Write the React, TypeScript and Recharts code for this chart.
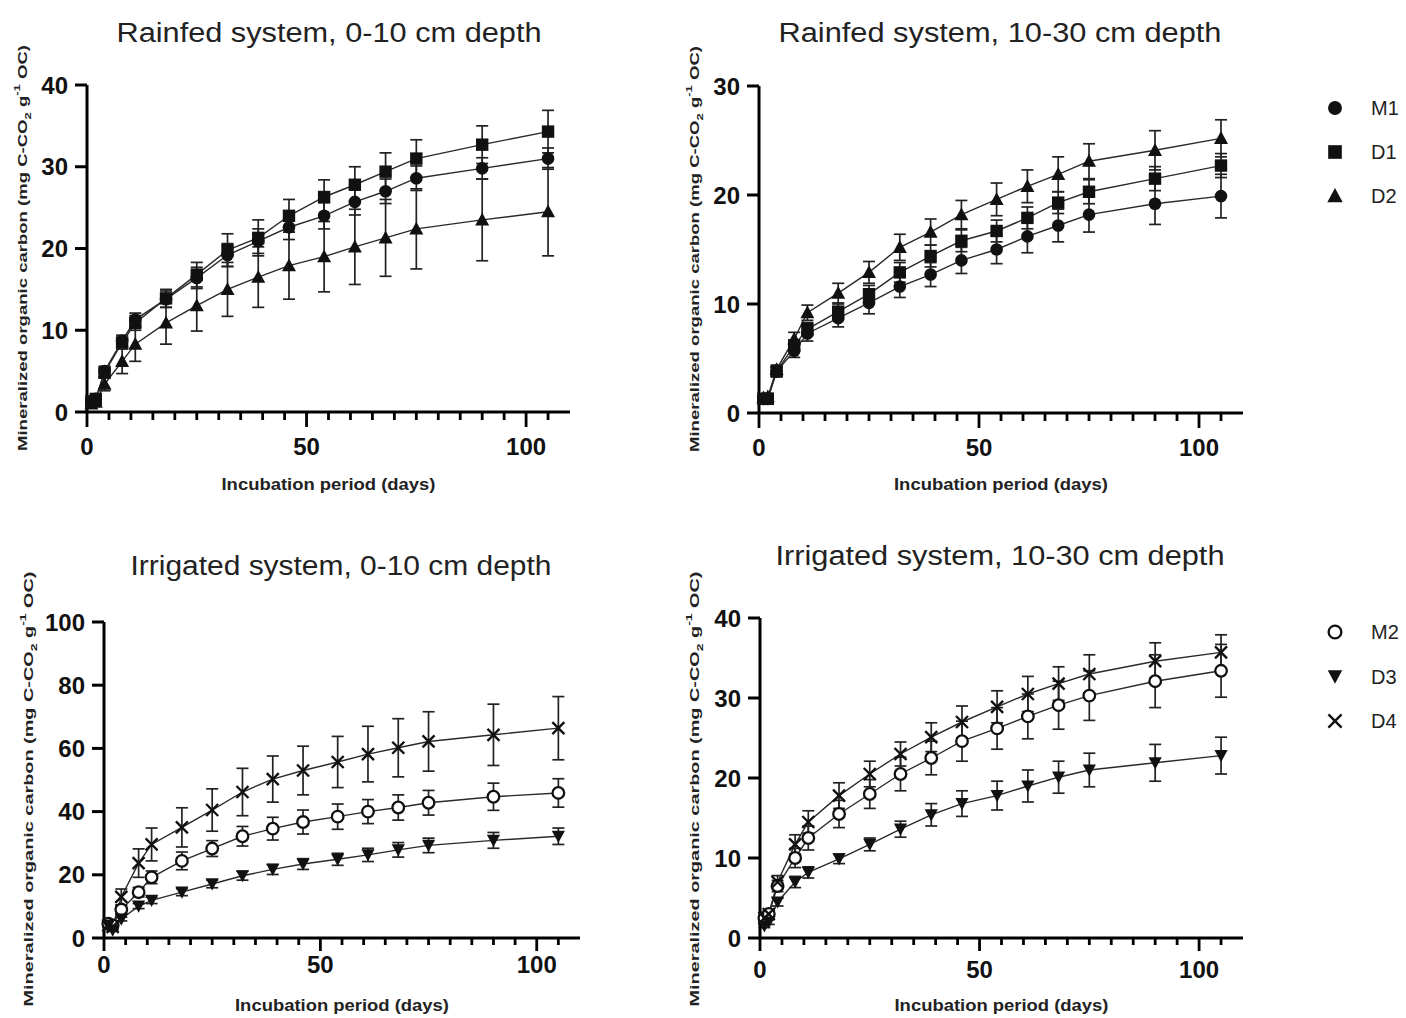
import React from 'react';
import { LineChart, Line, XAxis, YAxis, ErrorBar, Legend } from 'recharts';

// ---------- data ----------
const DAYS = [1, 2, 4, 8, 11, 18, 25, 32, 39, 46, 54, 61, 68, 75, 90, 105];
const X_TICKS = [0, 5, 10, 15, 20, 25, 30, 35, 40, 45, 50, 55, 60, 65, 70, 75, 80, 85, 90, 95, 100, 105];
const X_MAJOR = [0, 50, 100];

// Rainfed system, 0-10 cm
const RF0_M1 = [1.3, 1.6, 5.0, 8.7, 11.3, 13.8, 16.4, 19.2, 20.9, 22.6, 24.0, 25.7, 27.0, 28.6, 29.8, 31.0];
const RF0_M1_ERR = [0.3, 0.4, 0.6, 0.7, 0.8, 1.0, 1.3, 1.4, 1.5, 1.5, 1.6, 1.6, 1.5, 1.5, 1.3, 1.3];
const RF0_D1 = [1.3, 1.6, 4.8, 8.5, 10.9, 13.9, 16.8, 19.8, 21.3, 24.0, 26.3, 27.8, 29.4, 31.0, 32.7, 34.3];
const RF0_D1_ERR = [0.3, 0.4, 0.5, 0.6, 0.9, 1.1, 1.5, 2.0, 2.2, 2.0, 2.1, 2.2, 2.3, 2.3, 2.3, 2.6];
const RF0_D2 = [1.0, 1.2, 3.4, 6.2, 8.3, 10.9, 13.0, 15.0, 16.5, 17.9, 19.0, 20.2, 21.3, 22.4, 23.5, 24.5];
const RF0_D2_ERR = [0.3, 0.4, 0.8, 1.5, 2.1, 2.6, 3.1, 3.3, 3.7, 4.1, 4.3, 4.6, 4.7, 4.9, 5.0, 5.4];

// Rainfed system, 10-30 cm
const RF1_M1 = [1.3, 1.3, 3.8, 5.7, 7.3, 8.7, 10.1, 11.6, 12.7, 14.0, 15.0, 16.2, 17.2, 18.2, 19.2, 19.9];
const RF1_M1_ERR = [0.2, 0.3, 0.4, 0.6, 0.7, 0.8, 1.0, 1.0, 1.1, 1.2, 1.3, 1.5, 1.5, 1.6, 1.9, 2.0];
const RF1_D1 = [1.3, 1.3, 3.8, 6.2, 7.7, 9.3, 10.9, 12.9, 14.4, 15.8, 16.7, 17.9, 19.3, 20.3, 21.5, 22.7];
const RF1_D1_ERR = [0.2, 0.3, 0.4, 0.5, 0.6, 0.7, 0.8, 0.9, 1.0, 1.0, 1.0, 1.0, 1.0, 1.1, 1.1, 1.1];
const RF1_D2 = [1.4, 1.5, 4.0, 6.8, 9.2, 11.0, 12.9, 15.2, 16.6, 18.2, 19.6, 20.8, 21.9, 23.1, 24.1, 25.2];
const RF1_D2_ERR = [0.2, 0.3, 0.4, 0.6, 0.7, 0.9, 1.0, 1.2, 1.2, 1.3, 1.5, 1.5, 1.6, 1.6, 1.8, 1.7];

// Irrigated system, 0-10 cm
const IR0_M2 = [4.5, 4.0, 9.0, 14.5, 19.2, 24.4, 28.3, 32.2, 34.6, 36.7, 38.4, 40.0, 41.3, 42.8, 44.7, 45.9];
const IR0_M2_ERR = [0.5, 0.6, 1.2, 1.5, 2.0, 2.8, 2.5, 3.1, 3.6, 3.8, 4.0, 3.8, 4.0, 3.9, 4.3, 4.5];
const IR0_D3 = [4.0, 2.5, 6.0, 10.1, 11.9, 14.5, 17.1, 19.7, 21.7, 23.4, 24.9, 26.3, 27.9, 29.3, 30.9, 32.2];
const IR0_D3_ERR = [0.3, 0.4, 0.6, 0.8, 1.0, 1.1, 1.2, 1.4, 1.6, 1.7, 1.9, 2.1, 2.3, 2.3, 2.5, 2.6];
const IR0_D4 = [4.0, 3.5, 13.0, 23.7, 29.6, 35.0, 40.5, 46.2, 50.3, 53.0, 55.7, 58.2, 60.2, 62.2, 64.3, 66.4];
const IR0_D4_ERR = [0.5, 0.8, 2.5, 4.5, 5.2, 6.2, 6.7, 7.5, 7.3, 7.7, 8.1, 8.8, 9.2, 9.4, 9.7, 10.0];

// Irrigated system, 10-30 cm
const IR1_M2 = [2.5, 3.0, 6.5, 10.0, 12.5, 15.5, 18.0, 20.5, 22.5, 24.6, 26.2, 27.7, 29.1, 30.3, 32.1, 33.4];
const IR1_M2_ERR = [0.3, 0.4, 0.7, 1.2, 1.5, 1.7, 1.8, 2.1, 2.1, 2.5, 2.6, 2.8, 3.0, 3.1, 3.3, 3.3];
const IR1_D3 = [1.5, 2.0, 4.5, 7.0, 8.2, 9.9, 11.7, 13.6, 15.4, 16.8, 17.8, 19.0, 20.1, 21.0, 21.9, 22.8];
const IR1_D3_ERR = [0.2, 0.3, 0.5, 0.7, 0.7, 0.6, 0.8, 1.0, 1.4, 1.6, 1.8, 2.0, 2.0, 2.1, 2.3, 2.3];
const IR1_D4 = [2.5, 3.0, 7.0, 11.7, 14.5, 17.8, 20.5, 23.0, 25.1, 27.0, 28.9, 30.5, 31.8, 33.0, 34.6, 35.7];
const IR1_D4_ERR = [0.3, 0.4, 0.8, 1.2, 1.4, 1.6, 1.6, 1.5, 1.8, 2.0, 2.0, 2.2, 2.1, 2.4, 2.3, 2.2];

const Y_TICKS_40 = [0, 10, 20, 30, 40];
const Y_TICKS_30 = [0, 10, 20, 30];
const Y_TICKS_100 = [0, 20, 40, 60, 80, 100];

const TITLES = [
  'Rainfed system, 0-10 cm depth',
  'Rainfed system, 10-30 cm depth',
  'Irrigated system, 0-10 cm depth',
  'Irrigated system, 10-30 cm depth',
];
const X_LABEL = 'Incubation period (days)';
const LEGEND_TOP = ['M1', 'D1', 'D2'];
const LEGEND_BOTTOM = ['M2', 'D3', 'D4'];

const FONT = '"Liberation Sans", Arial, sans-serif';

// ---------- markers ----------
type Shape = 'circle' | 'square' | 'triangle' | 'openCircle' | 'triangleDown' | 'cross';

function Marker({ shape, cx, cy, s = 1 }: { shape: Shape; cx: number; cy: number; s?: number }) {
  const c = '#111';
  if (cx == null || cy == null || isNaN(cx) || isNaN(cy)) return <g />;
  switch (shape) {
    case 'circle':
      return <circle cx={cx} cy={cy} r={6.3 * s} fill={c} />;
    case 'square':
      return <rect x={cx - 6.2 * s} y={cy - 6.2 * s} width={12.4 * s} height={12.4 * s} fill={c} />;
    case 'triangle':
      return (
        <polygon
          points={`${cx},${cy - 7.2 * s} ${cx - 7 * s},${cy + 5.6 * s} ${cx + 7 * s},${cy + 5.6 * s}`}
          fill={c}
        />
      );
    case 'openCircle':
      return <circle cx={cx} cy={cy} r={5.8 * s} fill="#fff" stroke={c} strokeWidth={2.3} />;
    case 'triangleDown':
      return (
        <polygon
          points={`${cx},${cy + 6.6 * s} ${cx - 6.6 * s},${cy - 5.6 * s} ${cx + 6.6 * s},${cy - 5.6 * s}`}
          fill={c}
        />
      );
    case 'cross':
    default:
      return (
        <g stroke={c} strokeWidth={2.4} strokeLinecap="butt">
          <line x1={cx - 6 * s} y1={cy - 6 * s} x2={cx + 6 * s} y2={cy + 6 * s} />
          <line x1={cx - 6 * s} y1={cy + 6 * s} x2={cx + 6 * s} y2={cy - 6 * s} />
        </g>
      );
  }
}

// ---------- panel config ----------
type Series = { key: string; name: string; shape: Shape; values: number[]; errors: number[] };

type PanelSpec = {
  id: string;
  left: number;
  top: number;
  width: number;
  height: number;
  plot: { x0: number; y0: number; x1: number; y1: number };
  xAxisHeight: number;
  yMax: number;
  yTicks: number[];
  series: Series[];
  majorLen: number;
  minorLen: number;
  tickLabelDy: number;
  xLabelDy: number;
  yLabelX: number; // page coords
  yLabelCy: number; // page coords
  yLabelLen: number;
  legend?: { names: string[]; left: number; top: number; gap: number };
};

const SHAPE_BY_NAME: Record<string, Shape> = {
  M1: 'circle',
  D1: 'square',
  D2: 'triangle',
  M2: 'openCircle',
  D3: 'triangleDown',
  D4: 'cross',
};

const PANELS: PanelSpec[] = [
  {
    id: 'rf0',
    left: 0,
    top: 0,
    width: 680,
    height: 520,
    plot: { x0: 87, y0: 85, x1: 570, y1: 412 },
    xAxisHeight: 90,
    yMax: 40,
    yTicks: Y_TICKS_40,
    series: [
      { key: 'M1', name: 'M1', shape: 'circle', values: RF0_M1, errors: RF0_M1_ERR },
      { key: 'D1', name: 'D1', shape: 'square', values: RF0_D1, errors: RF0_D1_ERR },
      { key: 'D2', name: 'D2', shape: 'triangle', values: RF0_D2, errors: RF0_D2_ERR },
    ],
    majorLen: 15,
    minorLen: 8,
    tickLabelDy: 34,
    xLabelDy: 72,
    yLabelX: 22,
    yLabelCy: 248,
    yLabelLen: 406,
  },
  {
    id: 'rf1',
    left: 680,
    top: 0,
    width: 726,
    height: 520,
    plot: { x0: 759, y0: 86, x1: 1243, y1: 413 },
    xAxisHeight: 90,
    yMax: 30,
    yTicks: Y_TICKS_30,
    series: [
      { key: 'M1', name: 'M1', shape: 'circle', values: RF1_M1, errors: RF1_M1_ERR },
      { key: 'D1', name: 'D1', shape: 'square', values: RF1_D1, errors: RF1_D1_ERR },
      { key: 'D2', name: 'D2', shape: 'triangle', values: RF1_D2, errors: RF1_D2_ERR },
    ],
    majorLen: 15,
    minorLen: 8,
    tickLabelDy: 34,
    xLabelDy: 71,
    yLabelX: 694,
    yLabelCy: 249,
    yLabelLen: 406,
    legend: { names: LEGEND_TOP, left: 640, top: 92, gap: 44 },
  },
  {
    id: 'ir0',
    left: 0,
    top: 540,
    width: 680,
    height: 478,
    plot: { x0: 104, y0: 622, x1: 580, y1: 938 },
    xAxisHeight: 75,
    yMax: 100,
    yTicks: Y_TICKS_100,
    series: [
      { key: 'M2', name: 'M2', shape: 'openCircle', values: IR0_M2, errors: IR0_M2_ERR },
      { key: 'D3', name: 'D3', shape: 'triangleDown', values: IR0_D3, errors: IR0_D3_ERR },
      { key: 'D4', name: 'D4', shape: 'cross', values: IR0_D4, errors: IR0_D4_ERR },
    ],
    majorLen: 13,
    minorLen: 7,
    tickLabelDy: 26,
    xLabelDy: 67,
    yLabelX: 28,
    yLabelCy: 789,
    yLabelLen: 435,
  },
  {
    id: 'ir1',
    left: 680,
    top: 540,
    width: 726,
    height: 478,
    plot: { x0: 760, y0: 618, x1: 1243, y1: 938 },
    xAxisHeight: 75,
    yMax: 40,
    yTicks: Y_TICKS_40,
    series: [
      { key: 'M2', name: 'M2', shape: 'openCircle', values: IR1_M2, errors: IR1_M2_ERR },
      { key: 'D3', name: 'D3', shape: 'triangleDown', values: IR1_D3, errors: IR1_D3_ERR },
      { key: 'D4', name: 'D4', shape: 'cross', values: IR1_D4, errors: IR1_D4_ERR },
    ],
    majorLen: 13,
    minorLen: 7,
    tickLabelDy: 31,
    xLabelDy: 67,
    yLabelX: 694,
    yLabelCy: 789,
    yLabelLen: 435,
    legend: { names: LEGEND_BOTTOM, left: 640, top: 76, gap: 44.5 },
  },
];

const TITLE_POS = [
  { cx: 329, cy: 33, len: 425 },
  { cx: 1000, cy: 33, len: 443 },
  { cx: 341, cy: 566, len: 421 },
  { cx: 1000, cy: 556, len: 449 },
];

function buildRows(series: Series[]) {
  return DAYS.map((d, i) => {
    const row: Record<string, number> = { day: d };
    series.forEach((s) => {
      row[s.key] = s.values[i];
      row[s.key + 'Err'] = s.errors[i];
    });
    return row;
  });
}

function XTick(props: any) {
  const { x, y, payload, majorLen, minorLen, labelDy } = props;
  const v = payload?.value;
  const isMajor = X_MAJOR.includes(v);
  return (
    <g>
      <line x1={x} x2={x} y1={y} y2={y + (isMajor ? majorLen : minorLen)} stroke="#000" strokeWidth={2.8} />
      {isMajor && (
        <text
          x={x}
          y={y + labelDy}
          textAnchor="middle"
          dominantBaseline="central"
          fontSize={24}
          fontWeight="bold"
          fill="#111"
          fontFamily={FONT}
        >
          {v}
        </text>
      )}
    </g>
  );
}

function YLabelText({ x, y, len }: { x: number; y: number; len: number }) {
  return (
    <text
      transform={`translate(${x},${y}) rotate(-90)`}
      textAnchor="middle"
      dominantBaseline="central"
      fontSize={13.5}
      fontWeight="bold"
      fill="#222"
      fontFamily={FONT}
      textLength={len}
      lengthAdjust="spacingAndGlyphs"
    >
      Mineralized organic carbon (mg C-CO
      <tspan fontSize={9.5} baselineShift="sub">2</tspan>
      <tspan> g</tspan>
      <tspan fontSize={9.5} baselineShift="super">-1</tspan>
      <tspan> OC)</tspan>
    </text>
  );
}

function LegendBox({ names, gap }: { names: string[]; gap: number }) {
  return (
    <svg width={90} height={16 + gap * (names.length - 1) + 16} style={{ display: 'block' }}>
      {names.map((n, i) => (
        <g key={n}>
          <Marker shape={SHAPE_BY_NAME[n]} cx={15} cy={16 + i * gap} s={1.1} />
          <text x={51} y={16 + i * gap} dominantBaseline="central" fontSize={20} fill="#222" fontFamily={FONT}>
            {n}
          </text>
        </g>
      ))}
    </svg>
  );
}

function Panel({ spec }: { spec: PanelSpec }) {
  const { left, top, width, height, plot } = spec;
  const yAxisWidth = plot.x0 - left;
  const mTop = plot.y0 - top;
  const mRight = left + width - plot.x1;
  const mBottom = top + height - plot.y1 - spec.xAxisHeight;
  const rows = buildRows(spec.series);
  const plotCxLocal = (plot.x0 + plot.x1) / 2 - left;

  return (
    <div style={{ position: 'absolute', left, top, width, height }}>
      <LineChart
        width={width}
        height={height}
        data={rows}
        margin={{ top: mTop, right: mRight, bottom: mBottom, left: 0 }}
      >
        <XAxis
          dataKey="day"
          type="number"
          domain={[0, 110]}
          ticks={X_TICKS}
          interval={0}
          allowDecimals={false}
          tickLine={false}
          tickSize={0}
          tickMargin={0}
          height={spec.xAxisHeight}
          axisLine={{ stroke: '#000', strokeWidth: 3 }}
          tick={(p: any) => (
            <XTick {...p} majorLen={spec.majorLen} minorLen={spec.minorLen} labelDy={spec.tickLabelDy} />
          )}
          label={{
            content: (lp: any) => {
              const vb = lp.viewBox || {};
              const y0 = vb.y ?? plot.y1 - top;
              return (
                <text
                  x={plotCxLocal}
                  y={y0 + spec.xLabelDy}
                  textAnchor="middle"
                  dominantBaseline="central"
                  fontSize={17}
                  fontWeight="bold"
                  fill="#222"
                  fontFamily={FONT}
                  textLength={214}
                  lengthAdjust="spacingAndGlyphs"
                >
                  {X_LABEL}
                </text>
              );
            },
          }}
        />
        <YAxis
          type="number"
          domain={[0, spec.yMax]}
          ticks={spec.yTicks}
          interval={0}
          width={yAxisWidth}
          tickSize={12}
          tickMargin={7}
          tickLine={{ stroke: '#000', strokeWidth: 3 }}
          axisLine={{ stroke: '#000', strokeWidth: 3 }}
          tick={{ fontSize: 24, fill: '#111', fontWeight: 'bold', fontFamily: FONT }}
          label={{
            content: () => <YLabelText x={spec.yLabelX - left} y={spec.yLabelCy - top} len={spec.yLabelLen} />,
          }}
        />
        {spec.series.map((s) => (
          <Line
            key={s.key}
            dataKey={s.key}
            name={s.name}
            type="linear"
            stroke="#2a2a2a"
            strokeWidth={1.4}
            isAnimationActive={false}
            activeDot={false}
            dot={(p: any) => <Marker key={`${s.key}-${p.index}`} shape={s.shape} cx={p.cx} cy={p.cy} />}
          >
            <ErrorBar
              dataKey={s.key + 'Err'}
              direction="y"
              width={6}
              stroke="#222"
              strokeWidth={1.7}
              isAnimationActive={false}
            />
          </Line>
        ))}
        {spec.legend && (
          <Legend
            layout="vertical"
            align="center"
            verticalAlign="middle"
            wrapperStyle={{ position: 'absolute', left: spec.legend.left, top: spec.legend.top, width: 90 }}
            content={() => <LegendBox names={spec.legend!.names} gap={spec.legend!.gap} />}
          />
        )}
      </LineChart>
    </div>
  );
}

export default function App() {
  return (
    <div
      style={{
        position: 'absolute',
        left: 0,
        top: 0,
        width: 1406,
        height: 1018,
        background: '#fff',
        fontFamily: FONT,
        overflow: 'hidden',
      }}
    >
      {PANELS.map((p) => (
        <Panel key={p.id} spec={p} />
      ))}
      <svg
        width={1406}
        height={1018}
        style={{ position: 'absolute', left: 0, top: 0, pointerEvents: 'none' }}
      >
        {TITLES.map((t, i) => (
          <text
            key={t}
            x={TITLE_POS[i].cx}
            y={TITLE_POS[i].cy}
            textAnchor="middle"
            dominantBaseline="central"
            fontSize={27}
            fill="#222"
            fontFamily={FONT}
            textLength={TITLE_POS[i].len}
            lengthAdjust="spacingAndGlyphs"
          >
            {t}
          </text>
        ))}
      </svg>
    </div>
  );
}
